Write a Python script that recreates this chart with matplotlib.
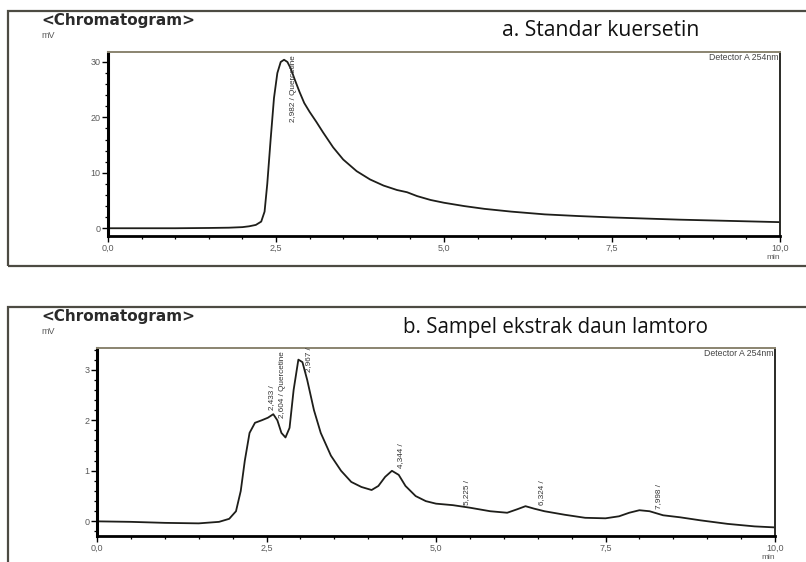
"""Two HPLC chromatograms (standard quercetin vs lamtoro leaf extract)."""
import matplotlib
matplotlib.use("Agg")
import matplotlib.pyplot as plt
from matplotlib.patches import Rectangle
from matplotlib.ticker import MultipleLocator, FuncFormatter

# --- data ----------------------------------------------------------------
# a. standard quercetin (mV vs min)
t_std = [0.0, 0.5, 1.0, 1.5, 1.8, 2.0, 2.1, 2.2, 2.28, 2.33, 2.37, 2.42, 2.47,
         2.52, 2.57, 2.62, 2.67, 2.72, 2.78, 2.85, 2.92, 3.0, 3.1, 3.2, 3.35,
         3.5, 3.7, 3.9, 4.1, 4.3, 4.45, 4.6, 4.8, 5.0, 5.3, 5.6, 6.0, 6.5,
         7.0, 7.5, 8.0, 8.5, 9.0, 9.5, 10.0]
mv_std = [0.0, 0.0, 0.0, 0.05, 0.1, 0.2, 0.35, 0.6, 1.2, 3.0, 8.0, 16.0, 23.5,
          28.0, 30.0, 30.4, 30.0, 28.8, 26.8, 24.6, 22.6, 21.0, 19.2, 17.3,
          14.6, 12.4, 10.3, 8.8, 7.7, 6.9, 6.5, 5.8, 5.1, 4.6, 4.0, 3.5, 3.0,
          2.5, 2.2, 1.95, 1.75, 1.55, 1.4, 1.25, 1.1]

# b. lamtoro leaf extract
t_smp = [0.0, 0.5, 1.0, 1.5, 1.8, 1.95, 2.05, 2.12, 2.18, 2.25, 2.33, 2.43,
         2.52, 2.6, 2.66, 2.72, 2.78, 2.84, 2.9, 2.97, 3.03, 3.1, 3.2, 3.3,
         3.45, 3.6, 3.75, 3.9, 4.05, 4.15, 4.25, 4.35, 4.45, 4.55, 4.7, 4.85,
         5.0, 5.25, 5.5, 5.8, 6.05, 6.2, 6.32, 6.45, 6.6, 6.9, 7.2, 7.5, 7.7,
         7.85, 8.0, 8.15, 8.35, 8.6, 8.9, 9.3, 9.7, 10.0]
mv_smp = [0.0, -0.01, -0.03, -0.04, -0.01, 0.05, 0.2, 0.6, 1.2, 1.75, 1.95,
          2.0, 2.05, 2.12, 2.0, 1.75, 1.66, 1.85, 2.6, 3.2, 3.15, 2.8, 2.2,
          1.75, 1.3, 1.0, 0.78, 0.68, 0.62, 0.7, 0.88, 1.0, 0.92, 0.7, 0.5,
          0.4, 0.35, 0.32, 0.27, 0.2, 0.17, 0.24, 0.3, 0.25, 0.2, 0.13, 0.07,
          0.06, 0.1, 0.17, 0.22, 0.2, 0.12, 0.08, 0.02, -0.05, -0.1, -0.12]

# peak labels: (x, y of text foot, text)
peaks_std = [(2.76, 19.2, "2,982 / Quercetine")]
peaks_smp = [(2.57, 2.2, "2,433 /"),
             (2.73, 2.05, "2,604 / Quercetine"),
             (3.12, 2.95, "2,967 /"),
             (4.48, 1.05, "4,344 /"),
             (5.45, 0.32, "5,225 /"),
             (6.55, 0.33, "6,324 /"),
             (8.28, 0.25, "7,998 /")]

W, H = 806, 562
LINE = "#1e1e1a"
FRAME = "#4d4b43"
TICKTXT = "#5a5a5a"


def fx(px):
    return px / W


def fy(py):
    return 1 - py / H


def comma(v, _):
    return f"{v:.1f}".replace(".", ",")


def panel(fig, box, t, mv, ylim, ymaj, ymin, peaks, title, title_xy,
          title_size, frame_box, min_y):
    left, top, right, bottom = box
    ax = fig.add_axes([fx(left), fy(bottom), fx(right - left), fy(top) - fy(bottom)])
    ax.plot(t, mv, color=LINE, lw=1.3)
    ax.set_xlim(0, 10)
    ax.set_ylim(*ylim)
    ax.xaxis.set_major_locator(MultipleLocator(2.5))
    ax.xaxis.set_minor_locator(MultipleLocator(0.5))
    ax.xaxis.set_major_formatter(FuncFormatter(comma))
    ax.yaxis.set_major_locator(MultipleLocator(ymaj))
    ax.yaxis.set_minor_locator(MultipleLocator(ymin))
    ax.yaxis.set_major_formatter(FuncFormatter(lambda v, _: f"{v:g}"))
    ax.tick_params(which="both", direction="out", color="black",
                   labelsize=6.5, labelcolor=TICKTXT, pad=1.5)
    ax.tick_params(which="major", length=4, width=1)
    ax.tick_params(which="minor", length=2.5, width=0.9)
    ax.spines["left"].set_linewidth(2.2)
    ax.spines["bottom"].set_linewidth(2.0)
    ax.spines["top"].set_color("#8a8470")
    ax.spines["top"].set_linewidth(1.4)
    ax.spines["right"].set_color("#2a2a26")
    ax.spines["right"].set_linewidth(1.4)
    for x, y, s in peaks:
        ax.text(x, y, s, rotation=90, ha="center", va="bottom",
                fontsize=5.9, color="#333333")
    ax.text(0.998, 0.995, "Detector A 254nm", transform=ax.transAxes,
            ha="right", va="top", fontsize=6.3, color="#444444")
    fig.text(fx(right), fy(min_y), "min", ha="right", va="center",
             fontsize=6, color=TICKTXT)

    fl, ft, fr, fb = frame_box
    fig.patches.append(Rectangle((fx(fl), fy(fb)), fx(fr - fl), fy(ft) - fy(fb),
                                 transform=fig.transFigure, fill=False,
                                 edgecolor=FRAME, lw=1.6))
    fig.text(fx(fl + 33), fy(ft + 10), "<Chromatogram>", fontsize=11,
             fontweight="bold", color="#2a2a2a", va="center",
             family="DejaVu Sans")
    fig.text(fx(fl + 33), fy(ft + 25), "mV", fontsize=6.5, color=TICKTXT,
             va="center")
    fig.text(fx(title_xy[0]), fy(title_xy[1]), title, fontsize=title_size,
             color="#111111", va="center", family="Open Sans")
    return ax


plt.rcParams["font.family"] = ["Liberation Sans", "DejaVu Sans"]
fig = plt.figure(figsize=(W / 100, H / 100), dpi=100)

panel(fig, (108, 52, 780, 236), t_std, mv_std, (-1.4, 31.8), 10, 2,
      peaks_std, "a. Standar kuersetin", (502, 31), 15.2,
      (8, 11, 812, 266), 257.5)
panel(fig, (97, 348, 775, 536), t_smp, mv_smp, (-0.29, 3.43), 1, 0.2,
      peaks_smp, "b. Sampel ekstrak daun lamtoro", (403, 328), 14.8,
      (8, 307, 812, 575), 557.5)

fig.savefig("out.png", dpi=100)
